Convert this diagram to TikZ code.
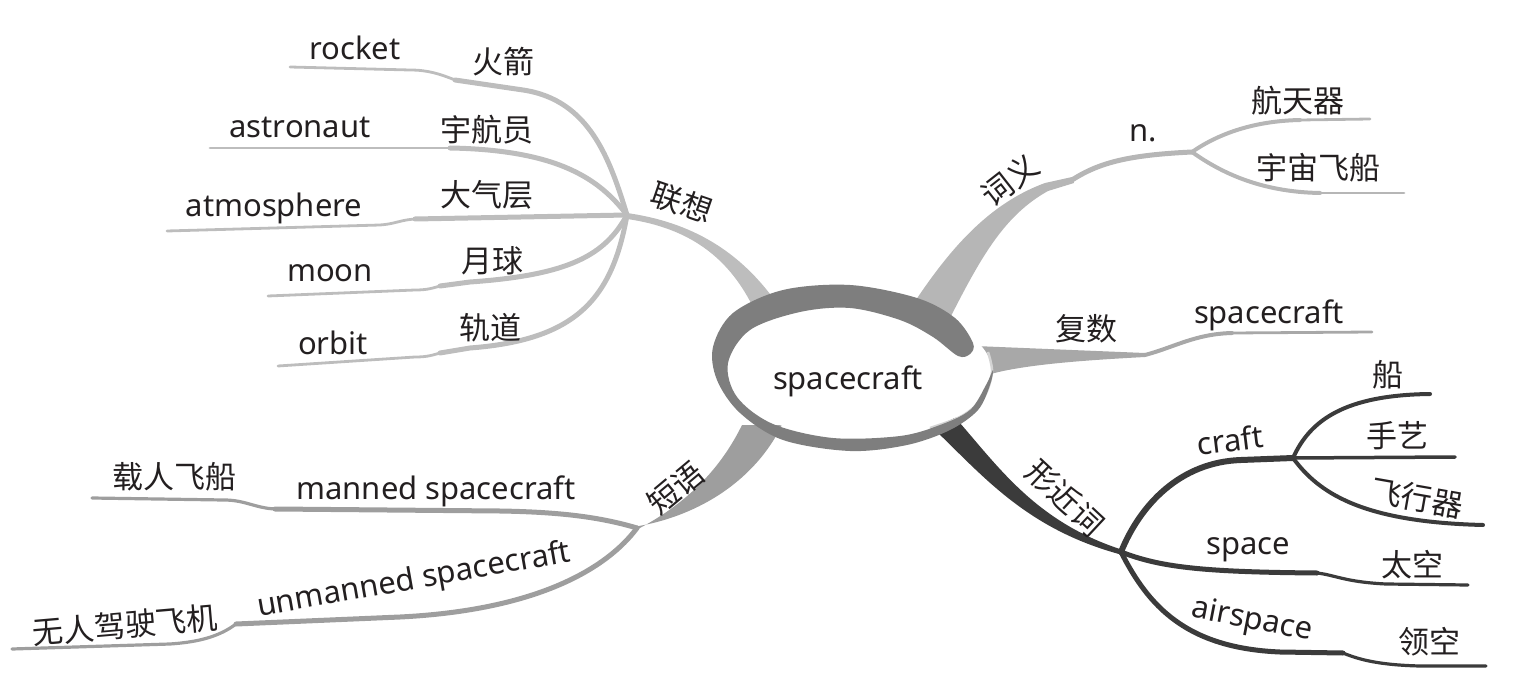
\documentclass[tikz,border=0pt]{standalone}
\usepackage{fontspec}
\setmainfont{Noto Sans}
\newfontfamily\cjk{Noto Sans CJK SC}
\usetikzlibrary{shapes.geometric}
\definecolor{ringG}{HTML}{7E7E7E}
\definecolor{rimG}{HTML}{D4D4D4}
\definecolor{assocG}{HTML}{BDBDBD}
\definecolor{senseG}{HTML}{B6B6B6}
\definecolor{plurG}{HTML}{A8A8A8}
\definecolor{phraseG}{HTML}{9E9E9E}
\definecolor{nearK}{HTML}{3B3B3B}
\definecolor{ink}{HTML}{231F20}
\tikzset{
  en/.style={font=\fontsize{31}{31}\selectfont, text=ink, inner sep=0pt},
  zh/.style={font=\cjk\fontsize{31}{31}\selectfont, text=ink, inner sep=0pt},
  stem/.style={line width=5pt, line cap=round, line join=round},
  twig/.style={line width=2.8pt, line cap=round, line join=round},
  core/.style={ellipse, fill=white, minimum width=266pt, minimum height=132pt, inner sep=0pt},
}
\begin{document}
\begin{tikzpicture}[x=1pt,y=-1pt]
  \useasboundingbox (0,0) rectangle (1525,692);

  % hubs
  \coordinate (assoc) at (627,215);
  \coordinate (senseStep) at (1072,180);
  \coordinate (sense) at (1192,152);
  \coordinate (plural) at (1145,355);
  \coordinate (near) at (1121,552);
  \coordinate (craftHub) at (1293,458);
  \coordinate (phrase) at (637,528);

  % steps
  \coordinate (rocketStep) at (455,80);
  \coordinate (astroStep) at (450,148);
  \coordinate (atmoStep) at (415,219);
  \coordinate (moonStep) at (440,286);
  \coordinate (orbitStep) at (440,353);
  \coordinate (hangtianStep) at (1300,120);
  \coordinate (feichuanStep) at (1320,193);
  \coordinate (pluralStep) at (1232,333);
  \coordinate (spaceStep) at (1317,573);
  \coordinate (airStep) at (1343,653);
  \coordinate (mannedStep) at (275,509);
  \coordinate (unmannedStep) at (236,624);

  % free ends
  \coordinate (rocketEnd) at (290,67);
  \coordinate (astroEnd) at (210,148);
  \coordinate (atmoEnd) at (167,231);
  \coordinate (moonEnd) at (268,296);
  \coordinate (orbitEnd) at (278,366);
  \coordinate (hangtianEnd) at (1370,119);
  \coordinate (feichuanEnd) at (1404,193);
  \coordinate (pluralEnd) at (1372,332);
  \coordinate (chuanEnd) at (1430,394);
  \coordinate (shouyiEnd) at (1455,457);
  \coordinate (feixingEnd) at (1483,525);
  \coordinate (spaceEnd) at (1468,585);
  \coordinate (airEnd) at (1486,666);
  \coordinate (mannedEnd) at (92,498);
  \coordinate (unmannedEnd) at (12,649);

  % 联想
  \fill[assocG] (778,305) .. controls (740,250) and (690,222) .. (627,213) -- (627,219) .. controls (690,228) and (728,258) .. (752,305) -- cycle;
  \draw[stem,assocG] (assoc) .. controls (610,160) and (590,100) .. (523,90) -- (rocketStep);
  \draw[twig,assocG] (rocketStep) .. controls (440,74) and (428,70) .. (410,70) -- (rocketEnd);
  \draw[stem,assocG] (assoc) .. controls (600,180) and (560,150) .. (astroStep);
  \draw[twig,assocG] (astroStep) -- (astroEnd);
  \draw[stem,assocG] (assoc) -- (atmoStep);
  \draw[twig,assocG] (atmoStep) .. controls (400,220) and (395,224) .. (380,225) -- (atmoEnd);
  \draw[stem,assocG] (assoc) .. controls (605,255) and (570,275) .. (470,282) -- (moonStep);
  \draw[twig,assocG] (moonStep) .. controls (430,289) and (425,290) .. (415,290) -- (moonEnd);
  \draw[stem,assocG] (assoc) .. controls (612,300) and (575,340) .. (470,348) -- (orbitStep);
  \draw[twig,assocG] (orbitStep) .. controls (430,356) and (425,357) .. (415,357) -- (orbitEnd);

  % 词义
  \fill[senseG] (908,312) .. controls (945,255) and (985,205) .. (1045,183) -- (1072,177) -- (1074,183) -- (1048,191) .. controls (1005,215) and (982,255) .. (950,318) -- cycle;
  \draw[stem,senseG] (senseStep) .. controls (1100,162) and (1130,155) .. (sense);
  \draw[stem,senseG,line width=4pt] (sense) .. controls (1215,136) and (1250,121) .. (hangtianStep);
  \draw[twig,senseG] (hangtianStep) -- (hangtianEnd);
  \draw[stem,senseG,line width=4pt] (sense) .. controls (1220,172) and (1260,192) .. (feichuanStep);
  \draw[twig,senseG] (feichuanStep) -- (feichuanEnd);

  % 复数
  \fill[plurG] (975,346) -- (1145,353) -- (1145,357) .. controls (1070,361) and (1010,366) .. (978,378) -- cycle;
  \draw[stem,plurG,line width=4pt] (plural) .. controls (1175,347) and (1195,334) .. (pluralStep);
  \draw[twig,plurG] (pluralStep) -- (pluralEnd);

  % 形近词
  \fill[nearK] (952,414) .. controls (996,463) and (1033,521) .. (1121.7,549.6) -- (1120.3,554.4) .. controls (1027,529) and (984,477) .. (935,430) -- cycle;
  \draw[stem,nearK,line width=6pt] (near) .. controls (1140,505) and (1180,462) .. (1241,460) -- (craftHub);
  \draw[stem,nearK] (near) .. controls (1160,567) and (1200,572) .. (spaceStep);
  \draw[twig,nearK,line width=3.2pt] (spaceStep) .. controls (1335,575) and (1345,582) .. (1386,584) -- (spaceEnd);
  \draw[stem,nearK] (near) .. controls (1148,605) and (1185,648) .. (1280,652) -- (airStep);
  \draw[twig,nearK,line width=3.2pt] (airStep) .. controls (1360,660) and (1380,665) .. (1420,666) -- (airEnd);
  \draw[twig,nearK,line width=4pt] (craftHub) .. controls (1310,420) and (1345,395) .. (chuanEnd);
  \draw[twig,nearK,line width=3.5pt] (craftHub) -- (shouyiEnd);
  \draw[twig,nearK,line width=4pt] (craftHub) .. controls (1318,492) and (1360,522) .. (feixingEnd);

  % 短语
  \fill[phraseG] (782,425) .. controls (755,480) and (700,515) .. (639,526) -- (636,530) .. controls (685,505) and (720,470) .. (742,425) -- cycle;
  \draw[stem,phraseG] (phrase) .. controls (600,517) and (560,512) .. (500,511) -- (mannedStep);
  \draw[twig,phraseG,line width=3.2pt] (mannedStep) .. controls (255,508) and (245,500) .. (224,500) -- (mannedEnd);
  \draw[stem,phraseG] (phrase) .. controls (608,567) and (540,610) .. (400,617) -- (unmannedStep);
  \draw[twig,phraseG,line width=3.2pt] (unmannedStep) .. controls (220,636) and (200,642) .. (170,644) -- (unmannedEnd);

  % centre
  \node[core] (core) at (859,372) {};
  \draw[rimG, line width=2.5pt] plot[smooth] coordinates {(930,428) (962,416) (984,397) (992,372) (988,352)};
  \fill[ringG] plot[smooth cycle, tension=0.55] coordinates {(973,343) (955,318) (917,298) (850,285) (783,290) (733,313) (713,347) (717,380) (740,413) (783,440) (850,451) (907,445) (950,430) (978,410) (990,385) (993,370) (986,385) (970,410) (940,425) (900,436) (833,438) (773,424) (737,397) (728,363) (750,330) (800,312) (850,308) (900,320) (933,337) (958,356) (970,354)};
  \node[en] (coreText) at (848,381) {spacecraft};

  % labels
  \node[zh, rotate=-19] (assocLbl) at (682,203) {联想};
  \node[en] (rocket) at (355,48) {rocket};
  \node[zh] (huojian) at (503,62) {火箭};
  \node[en] (astronaut) at (300,127) {astronaut};
  \node[zh] (yuhangyuan) at (487,130) {宇航员};
  \node[en] (atmosphere) at (274,208) {atmosphere};
  \node[zh] (daqiceng) at (487,195) {大气层};
  \node[en] (moon) at (330,273) {moon};
  \node[zh] (yueqiu) at (492,261) {月球};
  \node[en] (orbit) at (333,343) {orbit};
  \node[zh] (guidao) at (490,328) {轨道};

  \node[zh, rotate=38] (senseLbl) at (1010,180) {词义};
  \node[en] (noun) at (1143,133) {n.};
  \node[zh] (hangtianqi) at (1298,101) {航天器};
  \node[zh] (yuzhoufeichuan) at (1318,168) {宇宙飞船};

  \node[zh] (pluralLbl) at (1086,329) {复数};
  \node[en] (pluralForm) at (1269,315) {spacecraft};

  \node[zh, rotate=-43] (nearLbl) at (1065,498) {形近词};
  \node[en, rotate=7] (craft) at (1230,440) {craft};
  \node[zh] (chuan) at (1388,375) {船};
  \node[zh] (shouyi) at (1397,436) {手艺};
  \node[zh, rotate=-10] (feixingqi) at (1417,498) {飞行器};
  \node[en] (space) at (1248,550) {space};
  \node[zh] (taikong) at (1412,565) {太空};
  \node[en, rotate=-11] (airspace) at (1252,621) {airspace};
  \node[zh] (lingkong) at (1429,642) {领空};

  \node[zh, rotate=40] (phraseLbl) at (676,488) {短语};
  \node[en] (manned) at (436,491) {manned spacecraft};
  \node[zh] (zairen) at (174,477) {载人飞船};
  \node[en, rotate=10] (unmanned) at (414,581) {unmanned spacecraft};
  \node[zh, rotate=5] (wuren) at (125,625) {无人驾驶飞机};
\end{tikzpicture}
\end{document}
